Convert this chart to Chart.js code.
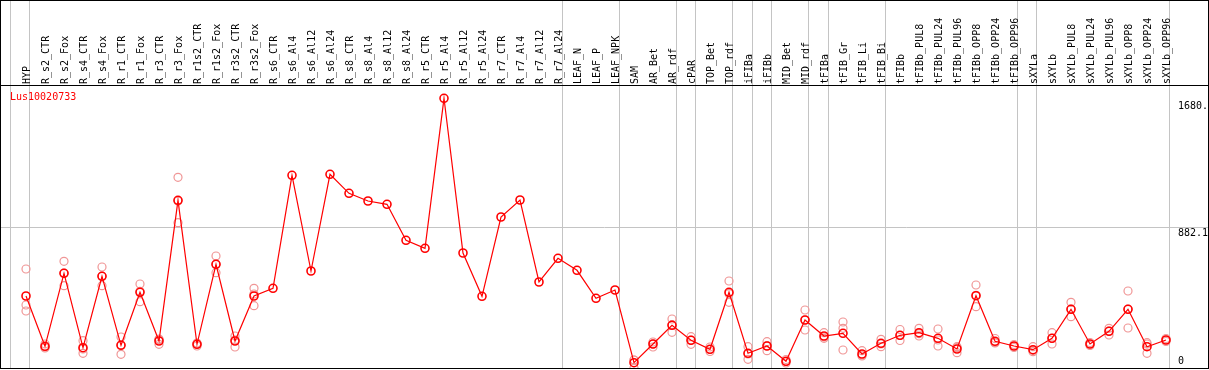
<!DOCTYPE html>
<html><head><meta charset="utf-8">
<script src="https://cdn.jsdelivr.net/npm/chart.js@4.4.1/dist/chart.umd.min.js"></script>
<style>html,body{margin:0;padding:0;background:#fff;overflow:hidden}canvas{display:block}</style>
</head><body>
<canvas id="c" width="1209" height="370"></canvas>
<script>
const geneId = 'Lus10020733';
const categories = ['HYP','R_s2_CTR','R_s2_Fox','R_s4_CTR','R_s4_Fox','R_r1_CTR','R_r1_Fox','R_r3_CTR','R_r3_Fox',
  'R_r1s2_CTR','R_r1s2_Fox','R_r3s2_CTR','R_r3s2_Fox','R_s6_CTR','R_s6_Al4','R_s6_Al12','R_s6_Al24',
  'R_s8_CTR','R_s8_Al4','R_s8_Al12','R_s8_Al24','R_r5_CTR','R_r5_Al4','R_r5_Al12','R_r5_Al24',
  'R_r7_CTR','R_r7_Al4','R_r7_Al12','R_r7_Al24','LEAF_N','LEAF_P','LEAF_NPK','SAM','AR_Bet','AR_rdf',
  'cPAR','TOP_Bet','TOP_rdf','iFIBa','iFIBb','MID_Bet','MID_rdf','tFIBa','tFIB_Gr','tFIB_Li','tFIB_Bi',
  'tFIBb','tFIBb_PUL8','tFIBb_PUL24','tFIBb_PUL96','tFIBb_OPP8','tFIBb_OPP24','tFIBb_OPP96',
  'sXYLa','sXYLb','sXYLb_PUL8','sXYLb_PUL24','sXYLb_PUL96','sXYLb_OPP8','sXYLb_OPP24','sXYLb_OPP96'];
const meanValues = [453.6,136.7,596.7,127.9,577.8,143.0,477.0,170.1,1056.6,149.3,653.4,170.1,453.6,502.2,
  1214.1,611.2,1220.4,1100.7,1052.2,1031.4,804.6,754.2,1699.3,724.6,451.8,951.4,1058.5,541.9,691.2,
  615.6,439.2,491.5,33.4,151.2,269.0,174.5,117.8,477.0,92.6,138.6,42.2,302.4,201.6,218.6,88.2,155.6,
  206.0,222.4,187.1,119.7,455.5,168.2,138.6,115.3,187.1,369.8,151.2,231.2,369.8,134.2,176.4];
const rep1 = [623.8,151.2,672.3,172.0,636.4,195.3,529.3,182.7,1201.6,157.5,705.7,201.6,502.2,
  null,null,null,null,null,null,null,null,null,null,null,null,null,null,null,null,null,null,null,
  50.4,163.8,308.7,197.2,132.3,548.2,134.2,165.7,53.6,365.4,222.4,289.8,109.0,180.8,
  242.6,250.1,245.7,134.2,523.0,185.9,148.1,134.2,222.4,414.0,160.7,250.1,485.2,159.4,185.9];
const rep2 = [396.9,132.3,598.6,119.7,579.7,146.8,483.3,178.3,1052.2,151.2,653.4,176.4,466.2,
  null,null,null,null,null,null,null,null,null,null,null,null,null,null,null,null,null,null,null,
  50.4,151.2,272.8,176.4,116.6,468.1,88.2,140.5,41.0,302.4,195.3,250.1,81.9,151.2,
  204.8,216.1,176.4,127.9,458.1,160.7,138.6,110.3,187.1,371.7,151.2,233.1,371.7,151.2,176.4];
const rep3 = [359.1,126.0,518.5,92.6,518.5,86.3,417.7,149.3,915.5,138.6,600.5,132.3,392.5,
  null,null,null,null,null,null,null,null,null,null,null,null,null,null,null,null,null,null,null,
  0,132.3,224.9,149.3,104.0,414.0,54.8,109.0,31.5,239.4,187.1,113.4,75.6,134.2,
  173.3,201.6,138.6,96.4,386.2,157.5,129.2,102.7,151.2,323.2,141.8,207.9,252.0,92.6,167.0];
const separators = [-0.84,0.21,28.22,31.22,34.26,35.26,37.21,38.26,39.26,41.21,42.26,45.26,52.21,53.18,60.21];
const yTickValues = [0, 882.1, 1680];
const yTickLabels = ['0', '882.1', '1680.'];

const FONT = 'DejaVu Sans Mono';
const isSep = v => separators.some(s => Math.abs(s - v) < 1e-6);
const noPad = s => { s.paddingLeft = 0; s.paddingRight = 0; s.paddingTop = 0; s.paddingBottom = 0; };

const framePlugin = {
  id: 'frame',
  afterDraw(chart) {
    const ctx = chart.ctx, a = chart.chartArea;
    ctx.save();
    ctx.strokeStyle = '#000'; ctx.lineWidth = 1;
    ctx.strokeRect(0.5, 0.5, a.right, a.bottom);
    ctx.fillStyle = '#ff0000';
    ctx.font = '10px "' + FONT + '"';
    ctx.textBaseline = 'middle'; ctx.textAlign = 'left';
    ctx.fillText(geneId, 10, a.top + 12);
    ctx.restore();
  }
};

const repStyle = {
  type: 'line', showLine: false, pointRadius: 4, pointHoverRadius: 4,
  pointBorderColor: 'rgb(240,150,150)', pointBackgroundColor: 'rgba(0,0,0,0)', pointBorderWidth: 1.2
};
const toXY = arr => arr.map((v, i) => v == null ? null : {x: i, y: v}).filter(p => p);

new Chart(document.getElementById('c'), {
  type: 'line',
  data: {
    datasets: [
      {label: geneId, data: meanValues.map((v, i) => ({x: i, y: v})), borderColor: '#ff0000', borderWidth: 1.2,
       pointRadius: 4, pointHoverRadius: 4, pointBorderColor: '#ff0000', pointBorderWidth: 1.6,
       pointBackgroundColor: 'rgba(0,0,0,0)', tension: 0, fill: false},
      Object.assign({label: 'rep1', data: toXY(rep1)}, repStyle),
      Object.assign({label: 'rep2', data: toXY(rep2)}, repStyle),
      Object.assign({label: 'rep3', data: toXY(rep3)}, repStyle)
    ]
  },
  options: {
    responsive: false, animation: false, devicePixelRatio: 1,
    layout: {autoPadding: false, padding: {top: 0, left: 1, right: 1, bottom: 2}},
    plugins: {legend: {display: false}, tooltip: {enabled: false}, title: {display: false}},
    scales: {
      x: {
        type: 'linear', position: 'top', min: -1.3158, max: 62.2105,
        afterBuildTicks: s => {
          s.ticks = categories.map((_, i) => ({value: i})).concat(separators.map(v => ({value: v})))
            .sort((a, b) => a.value - b.value);
        },
        afterFit: s => { s.height = 85; noPad(s); },
        ticks: {
          autoSkip: false, minRotation: 90, maxRotation: 90, padding: -84, labelOffset: 13, color: '#000',
          font: {family: FONT, size: 10},
          callback: v => Number.isInteger(v) ? categories[v] : ''
        },
        grid: {
          color: c => (c.tick && isSep(c.tick.value)) ? '#c4c4c4' : 'rgba(0,0,0,0)',
          lineWidth: 1, drawTicks: true, tickLength: 85
        },
        border: {display: true, color: '#000', width: 1}
      },
      y: {
        type: 'linear', position: 'right', min: 0, max: 1783.1,
        afterBuildTicks: s => { s.ticks = yTickValues.map(v => ({value: v})); },
        afterFit: s => { s.width = 0; noPad(s); },
        ticks: {
          mirror: true, crossAlign: 'far', padding: 0, labelOffset: 5, color: '#000',
          font: {family: FONT, size: 10},
          callback: (v, i) => i === 0 ? [yTickLabels[0], '', ''] : yTickLabels[i]
        },
        grid: {
          color: c => (c.tick && c.tick.value === 882.1) ? '#c4c4c4' : 'rgba(0,0,0,0)',
          drawTicks: false
        },
        border: {display: true, color: '#000', width: 1}
      }
    }
  },
  plugins: [framePlugin]
});
</script>
</body></html>
